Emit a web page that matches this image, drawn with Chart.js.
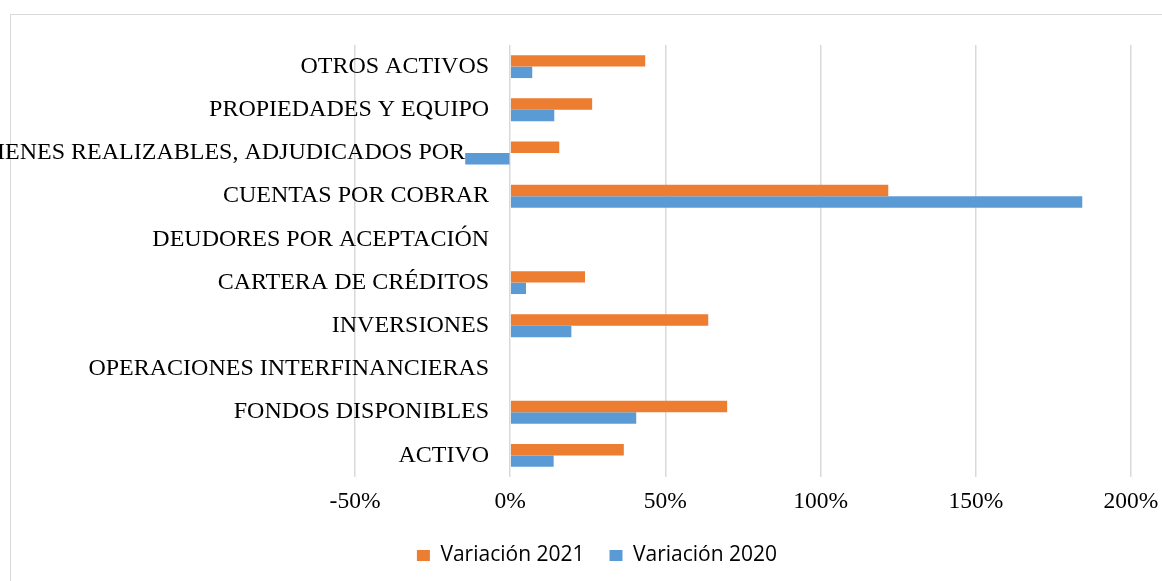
<!DOCTYPE html>
<html>
<head>
<meta charset="utf-8">
<script src="https://cdn.jsdelivr.net/npm/chart.js@4/dist/chart.umd.min.js"></script>
<style>
  html, body { margin: 0; padding: 0; overflow: hidden; background: #fff; }
  .frame { position: absolute; left: 10px; top: 14px; width: 1220px; height: 620px; border: 1.5px solid #d9d9d9; }
  .chart-box { position: absolute; left: 0; top: 0; width: 1162px; height: 581px; }
</style>
</head>
<body>
<div class="frame"></div>
<div class="chart-box"><canvas id="variacionCanvas"></canvas></div>
<script>
const CANVAS_ID = 'variacionCanvas';

// top to bottom, as shown in the chart
const categories = [
  'OTROS ACTIVOS',
  'PROPIEDADES Y EQUIPO',
  'BIENES REALIZABLES, ADJUDICADOS POR…',
  'CUENTAS POR COBRAR',
  'DEUDORES POR ACEPTACIÓN',
  'CARTERA DE CRÉDITOS',
  'INVERSIONES',
  'OPERACIONES INTERFINANCIERAS',
  'FONDOS DISPONIBLES',
  'ACTIVO'
];
// percent
const variacion2021 = [43.5, 26.4, 15.8, 121.8, 0, 24.1, 63.8, 0, 69.9, 36.6];
const variacion2020 = [7.1, 14.2, -14.5, 184.3, 0, 5.1, 19.7, 0, 40.6, 14.0];
const xTicks = [-50, 0, 50, 100, 150, 200];

const serif = "'Liberation Serif', 'Times New Roman', serif";

let chartData = {
  labels: categories,
  datasets: [
    {
      label: 'Variación 2021',
      data: variacion2021,
      backgroundColor: '#ED7D31',
      borderWidth: 0
    },
    {
      label: 'Variación 2020',
      data: variacion2020,
      backgroundColor: '#5B9BD5',
      borderWidth: 0
    }
  ]
};

const CTX = document.getElementById(CANVAS_ID);

let variacionChart = new Chart(CTX, {
  type: 'bar',
  data: chartData,
  options: {
    indexAxis: 'y',
    responsive: true,
    maintainAspectRatio: false,
    animation: false,
    categoryPercentage: 0.53,
    barPercentage: 1,
    layout: {
      padding: { left: 63, right: 31, top: 45, bottom: 5 }
    },
    scales: {
      y: {
        type: 'category',
        // labels hang just left of the 0% line, inside the plot (Excel style)
        position: { x: -6.8 },
        z: 1,
        grid: { display: false, drawTicks: false },
        border: { display: false },
        ticks: {
          padding: 0,
          color: '#000',
          font: { family: serif, size: 24 }
        }
      },
      yPad: {
        // empty axis that only keeps the left margin of the plot
        type: 'category',
        axis: 'y',
        position: 'left',
        afterFit: (scale) => { scale.width = 292; },
        grid: { display: false, drawTicks: false },
        border: { display: false },
        ticks: { display: false }
      },
      x: {
        min: xTicks[0],
        max: xTicks[xTicks.length - 1],
        afterBuildTicks: (scale) => {
          scale.ticks = xTicks.map(v => ({ value: v }));
        },
        afterFit: (scale) => {
          scale.height = 43;
          scale.paddingLeft = 0;
          scale.paddingRight = 0;
        },
        grid: { color: '#d9d9d9', lineWidth: 1.5, drawTicks: false },
        border: { display: false },
        ticks: {
          padding: 11,
          color: '#000',
          font: { family: serif, size: 23.5 },
          callback: (v) => v + '%'
        }
      }
    },
    plugins: {
      legend: {
        position: 'bottom',
        labels: {
          boxWidth: 13,
          boxHeight: 11,
          padding: 25,
          color: '#000',
          font: { family: "'Open Sans', 'Liberation Sans', sans-serif", size: 21 }
        }
      },
      tooltip: { enabled: false }
    }
  }
});
</script>
</body>
</html>
